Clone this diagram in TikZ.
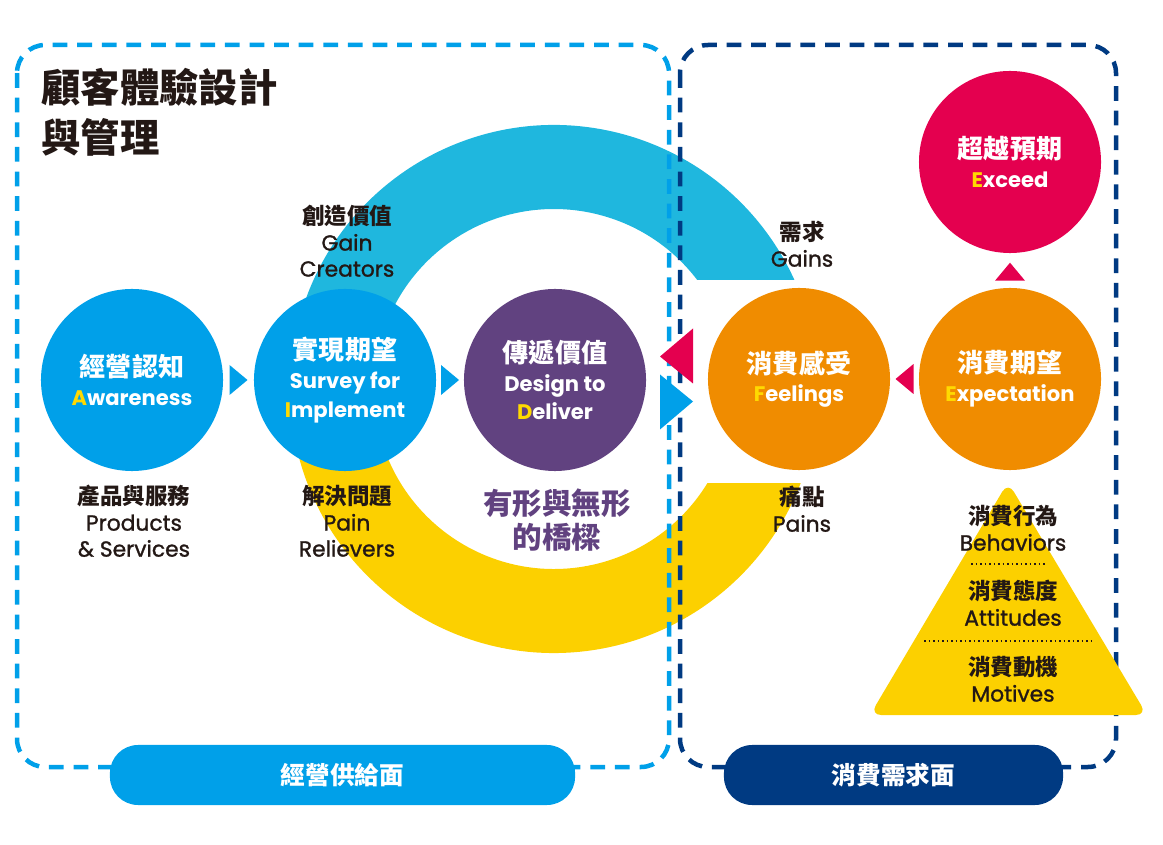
\documentclass[tikz,border=0pt]{standalone}
\usepackage{fontspec}
\setmainfont{Poppins}
\newfontfamily\capfont{Poppins}[FakeBold=1.2]
\newfontfamily\cjk{Noto Sans CJK TC}
\usetikzlibrary{calc}

\definecolor{skyblue}{RGB}{0,160,233}
\definecolor{ringcyan}{RGB}{31,183,222}
\definecolor{deliverpurple}{RGB}{97,66,128}
\definecolor{feelorange}{RGB}{240,140,0}
\definecolor{exceedred}{RGB}{228,0,79}
\definecolor{ringyellow}{RGB}{252,208,0}
\definecolor{navyblue}{RGB}{0,58,130}
\definecolor{inkblack}{RGB}{35,24,21}
\definecolor{hlyellow}{RGB}{255,217,0}

\newcommand{\hl}[1]{\textcolor{hlyellow}{#1}}
\newcommand{\zhin}[1]{{\cjk\bfseries\fontsize{18.5}{20}\selectfont #1}}
\newcommand{\zhout}[1]{{\cjk\bfseries\fontsize{16}{18}\selectfont #1}}

\begin{document}
\begin{tikzpicture}[x=0.025cm, y=0.025cm,
    stage/.style={circle, minimum size=4.55cm, inner sep=0pt, text=white, align=center,
      font=\fontsize{15}{20.5}\selectfont\bfseries},
    caption/.style={text=inkblack, align=center, inner sep=0pt,
      font=\capfont\fontsize{15.5}{18.5}\selectfont},
    side/.style={line width=3.2pt, dash pattern=on 10.5pt off 7pt, rounded corners=20pt},
    pill/.style={rounded corners=20pt, minimum height=1.5cm, inner sep=0pt, text=white,
      font=\cjk\bfseries\fontsize{17.5}{20}\selectfont}]
  \useasboundingbox (0,0) rectangle (1163,-845);

  % the two bands
  \begin{scope}[shift={(554,-389)}]
    \fill[ringcyan] (37.3:180) arc[start angle=37.3, end angle=165, radius=180]
      -- (165:264) arc[start angle=165, end angle=24.4, radius=264] -- cycle;
    \fill[ringyellow] (-31.5:180) arc[start angle=-31.5, end angle=-170, radius=180]
      -- (-170:264) arc[start angle=-170, end angle=-20.9, radius=264] -- cycle;
  \end{scope}

  % frames
  \draw[side, skyblue] (17,-45) rectangle (669,-767);
  \draw[side, navyblue] (680,-45) rectangle (1116,-767);

  \node[anchor=north west, inner sep=0pt, align=left, text=inkblack,
    font=\cjk\bfseries\fontsize{28}{35.5}\selectfont] (heading) at (41,-68) {顧客體驗設計\\與管理};

  % stages
  \node[stage, fill=skyblue] (aware) at (132,-380) {\zhin{經營認知}\\\hl{A}wareness};
  \node[stage, fill=skyblue] (survey) at (345,-380) {\zhin{實現期望}\\Survey for\\\hl{I}mplement};
  \node[stage, fill=deliverpurple] (deliver) at (555,-380) {\zhin{傳遞價值}\\Design to\\\hl{D}eliver};
  \node[stage, fill=feelorange] (feel) at (799,-379) {\zhin{消費感受}\\\hl{F}eelings};
  \node[stage, fill=feelorange] (expect) at (1010,-379) {\zhin{消費期望}\\\hl{E}xpectation};
  \node[stage, fill=exceedred] (exceed) at (1010,-162) {\zhin{超越預期}\\\hl{E}xceed};

  % arrow heads
  \fill[skyblue] ($(aware)!.5!(survey)$) ++(-9,15) -- ++(18,-15) -- ++(-18,-15) -- cycle;
  \fill[skyblue] ($(survey)!.5!(deliver)$) ++(-9,15) -- ++(18,-15) -- ++(-18,-15) -- cycle;
  \fill[exceedred] ($(deliver)!.5!(feel)$) ++(-17,23) -- ++(33,28) -- ++(0,-55) -- cycle;
  \fill[skyblue] ($(deliver)!.5!(feel)$) ++(16,-22) -- ++(-33,27) -- ++(0,-55) -- cycle;
  \fill[exceedred] ($(feel)!.5!(expect)$) ++(-9,0) -- ++(18,15) -- ++(0,-30) -- cycle;
  \fill[exceedred] (expect.north) ++(0,25) -- ++(15,-18) -- ++(-30,0) -- cycle;

  % captions
  \node[caption] (creators) at (347,-241) {\zhout{創造價值}\\Gain\\Creators};
  \node[caption] (gains) at (802,-244) {\zhout{需求}\\Gains};
  \node[caption] (products) at (134,-521) {\zhout{產品與服務}\\Products\\\& Services};
  \node[caption] (relievers) at (347,-521) {\zhout{解決問題}\\Pain\\Relievers};
  \node[caption] (pains) at (802,-509) {\zhout{痛點}\\Pains};
  \node[align=center, inner sep=0pt, text=deliverpurple,
    font=\cjk\bfseries\fontsize{21}{24}\selectfont] (bridge) at (557,-520) {有形與無形\\的橋樑};

  % pyramid
  \fill[ringyellow, rounded corners=8pt] (1008,-482) -- (1147,-715) -- (870,-715) -- cycle;
  \draw[inkblack, line width=1.6pt, dash pattern=on 1.2pt off 2pt] (971,-564) -- (1045,-564);
  \draw[inkblack, line width=1.6pt, dash pattern=on 1.2pt off 2pt] (924,-641) -- (1093,-641);
  \node[caption] (behave) at (1013,-528) {\zhout{消費行為}\\Behaviors};
  \node[caption] (attitude) at (1013,-603) {\zhout{消費態度}\\Attitudes};
  \node[caption] (motive) at (1013,-679) {\zhout{消費動機}\\Motives};

  % footers
  \node[pill, fill=skyblue, minimum width=11.625cm] (supply) at (342.5,-775) {經營供給面};
  \node[pill, fill=navyblue, minimum width=8.475cm] (demand) at (893.5,-775) {消費需求面};
\end{tikzpicture}
\end{document}
